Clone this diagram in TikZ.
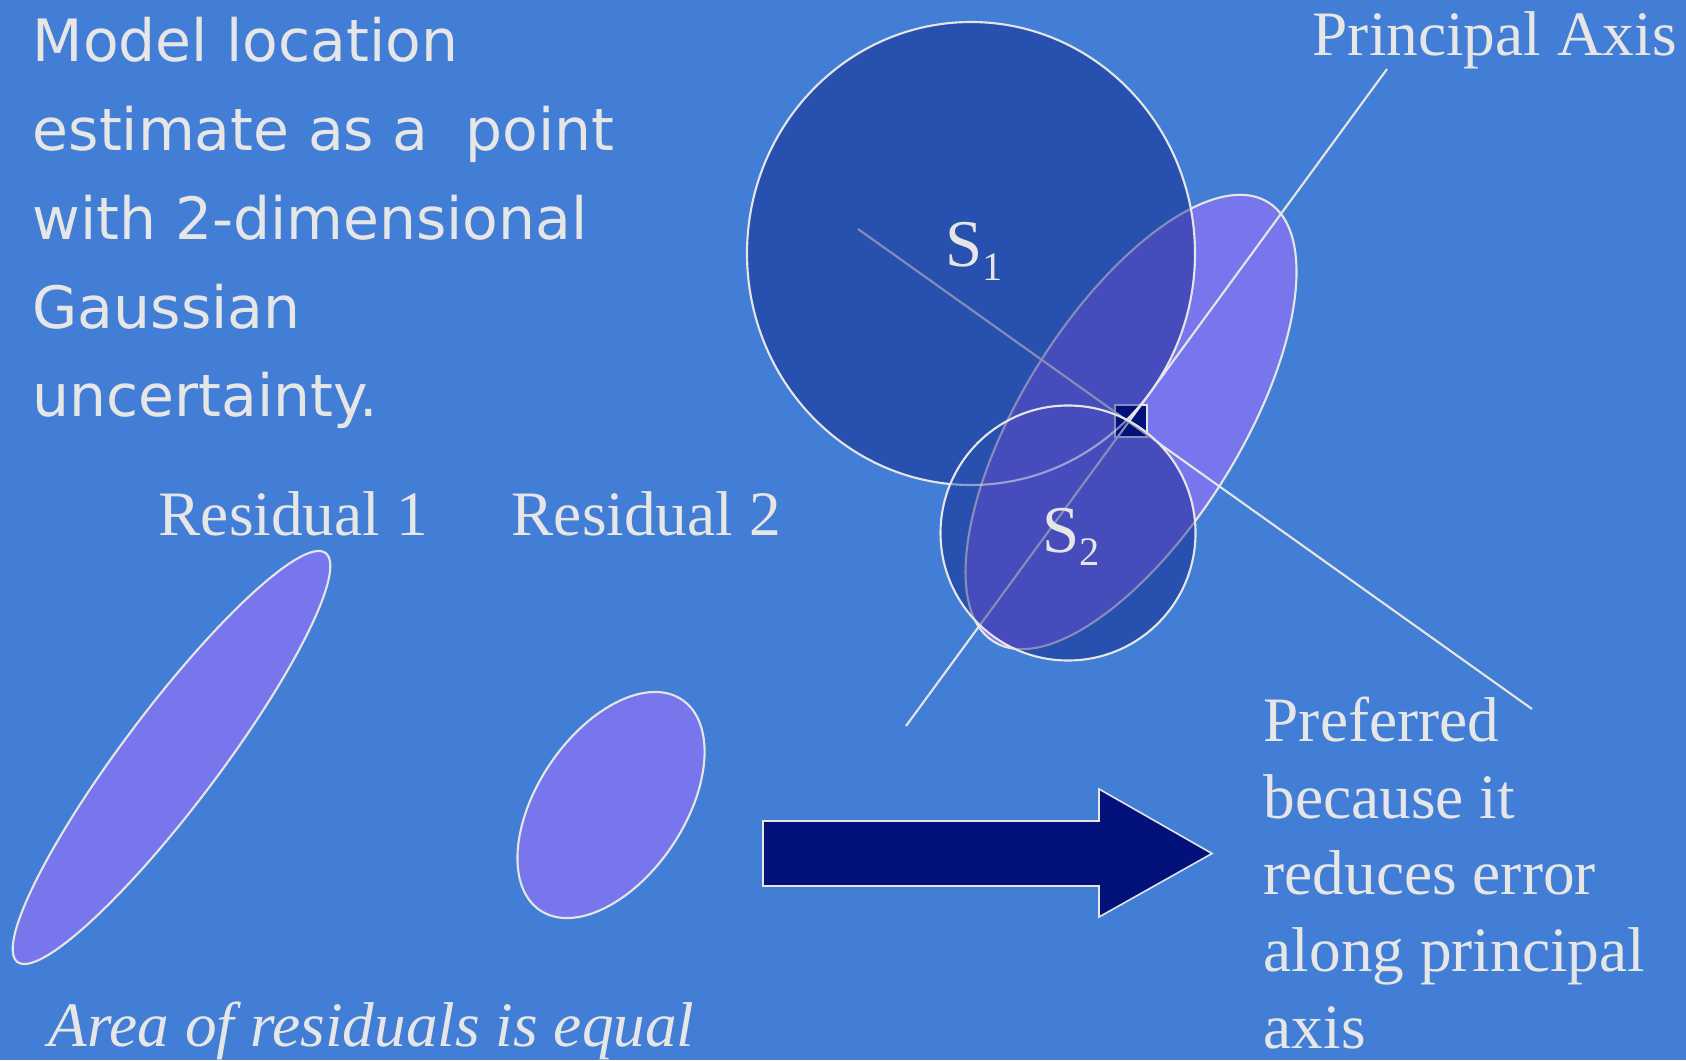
\documentclass[tikz,border=0pt]{standalone}
\usepackage{fontspec}
\setmainfont{Liberation Serif}
\newfontfamily\handfont{DejaVu Sans}
\usetikzlibrary{calc}

\definecolor{slidebg}{RGB}{66,125,214}
\definecolor{chalk}{RGB}{230,230,230}
\definecolor{navy}{RGB}{2,18,122}
\definecolor{lilac}{RGB}{120,118,236}

\tikzset{
  outline/.style={draw=chalk, line width=0.6pt},
  residual/.style={outline, fill=lilac},
  slidetext/.style={text=chalk, inner sep=0pt, anchor=base west, align=left,
    font=\fontsize{18}{21.8}\selectfont},
  handtext/.style={text=chalk, inner sep=0pt, anchor=base west, align=left,
    font=\handfont\fontsize{16.6}{25.3}\selectfont},
  sublabel/.style={text=chalk, inner sep=0pt, anchor=base west,
    font=\fontsize{19}{22}\selectfont}
}

\begin{document}
\begin{tikzpicture}[x=0.01cm, y=0.01cm]
  \useasboundingbox (0,0) rectangle (1686,1060);
  \fill[slidebg] (0,0) rectangle (1686,1060);

  % Left text (placed by its last line)
  \node[handtext] (model) at (32,643) {Model location\\estimate as a\ \ point\\with 2-dimensional\\Gaussian\\uncertainty.};

  % Residuals
  \node[slidetext] (res1) at (158,525) {Residual 1};
  \node[slidetext] (res2) at (511,525) {Residual 2};
  \draw[residual, rotate around={53:(171.5,302.5)}] (171.5,302.5) ellipse (256 and 48);
  \draw[residual, rotate around={56:(611,255)}] (611,255) ellipse (127 and 73.5);
  \node[slidetext, font=\fontsize{18}{21.8}\selectfont\itshape] (area) at (48,14) {Area of residuals is equal};

  % Big arrow
  \draw[chalk, line width=0.45pt, fill=navy] (763,239) -- (1099,239) -- (1099,271) -- (1212,206.5)
    -- (1099,143) -- (1099,174) -- (763,174) -- cycle;
  \node[slidetext] (pref) at (1263,12) {Preferred\\because it\\reduces error\\along principal\\axis};

  % Estimate and axes
  \coordinate (est) at (1131,638);
  \coordinate (axtop) at (1387,991);
  \coordinate (axbot) at (906,334);
  \coordinate (perpA) at (858,831);
  \coordinate (perpB) at (1532,351);
  \coordinate (c1) at (971,806.5);
  \coordinate (c2) at (1068,527);

  \draw[residual, rotate around={58:(est)}] (est) ellipse (259 and 109);
  \draw[outline, fill=navy] ($(est)+(-16,-15)$) rectangle ($(est)+(16,17)$);
  \draw[outline] (axtop) -- (axbot);
  \draw[outline] (perpA) -- (perpB);
  \node[slidetext] (paxis) at (1312,1004) {Principal Axis};

  % S1 and S2
  \begin{scope}[transparency group, opacity=0.42]
    \fill[navy] (c1) ellipse (224 and 231.5);
    \fill[navy] (c2) circle (127.5);
  \end{scope}
  \begin{scope}
    \clip (c2) circle (127.5);
    \draw[outline, draw opacity=0.55] (c1) ellipse (224 and 231.5);
  \end{scope}
  \begin{scope}
    \clip (0,0) -- (0,1060) -- (1686,1060) -- (1686,0) -- cycle (c2) circle (127.5);
    \draw[outline] (c1) ellipse (224 and 231.5);
  \end{scope}
  \draw[outline] (c2) circle (127.5);

  \node[sublabel] (s1) at (945,793) {S\raisebox{-3.7pt}{\fontsize{11.5}{12}\selectfont 1}};
  \node[sublabel] (s2) at (1042,508) {S\raisebox{-3.7pt}{\fontsize{11.5}{12}\selectfont 2}};
\end{tikzpicture}
\end{document}
